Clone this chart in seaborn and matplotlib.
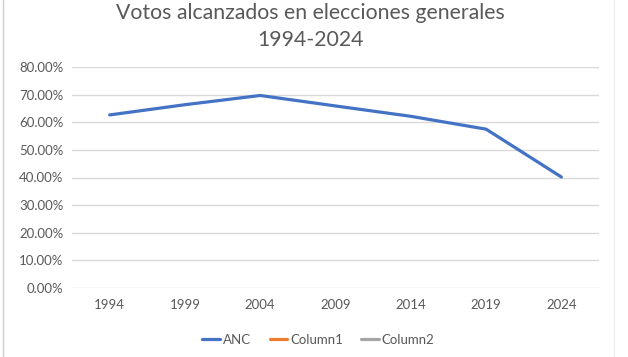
import matplotlib
matplotlib.use("Agg")
import matplotlib.pyplot as plt
from matplotlib.lines import Line2D
from matplotlib.ticker import PercentFormatter
import seaborn as sns
import pandas as pd

years = ["1994", "1999", "2004", "2009", "2014", "2019", "2024"]
anc = [0.6265, 0.6635, 0.6969, 0.6590, 0.6215, 0.5750, 0.4018]
series_names = ["ANC", "Column1", "Column2"]
series_colors = ["#4472C4", "#ED7D31", "#A5A5A5"]
yticks = [0.0, 0.1, 0.2, 0.3, 0.4, 0.5, 0.6, 0.7, 0.8]

sns.set_theme(style="white")
plt.rcParams["font.family"] = ["Lato", "DejaVu Sans"]

df = pd.DataFrame({"Año": years, "Votos": anc})

fig = plt.figure(figsize=(6.28, 3.57), dpi=100)
ax = fig.add_axes([72/628, 1-288/357, (599-72)/628, (288-67)/357])

sns.lineplot(data=df, x="Año", y="Votos", ax=ax, color=series_colors[0],
             linewidth=2.3, sort=False)

ax.set_xlim(-0.5, len(years)-0.5)
ax.set_ylim(0, 0.8)
ax.set_yticks(yticks)
ax.yaxis.set_major_formatter(PercentFormatter(1.0, decimals=2))
ax.grid(axis="y", color="#D9D9D9", linewidth=1)
ax.grid(axis="x", visible=False)
ax.set_axisbelow(True)
for s in ax.spines.values():
    s.set_visible(False)
ax.tick_params(axis="both", length=0, labelsize=9.5, labelcolor="#595959")
ax.tick_params(axis="y", pad=6)
ax.tick_params(axis="x", pad=8)
ax.set_xlabel("")
ax.set_ylabel("")

fig.text(0.494, 1-13/357, "Votos alcanzados en elecciones generales", ha="center",
         va="center", fontsize=15.3, color="#595959")
fig.text(0.494, 1-40/357, "1994-2024", ha="center", va="center",
         fontsize=15.3, color="#595959")

handles = [Line2D([0], [0], color=c, linewidth=2.3) for c in series_colors]
fig.legend(handles, series_names, loc="center", bbox_to_anchor=(318.5/628, 1-340/357),
           ncol=3, frameon=False, fontsize=9.5, labelcolor="#595959",
           handlelength=1.35, handletextpad=0.2, columnspacing=1.4)

# chart frame
fig.add_artist(Line2D([3/628, 3/628], [0, 1], color="#D0D0D0", linewidth=1,
                      transform=fig.transFigure))
fig.add_artist(Line2D([614/628, 614/628], [0, 1], color="#F0F0F0", linewidth=1,
                      transform=fig.transFigure))

fig.savefig("out.png", dpi=100, facecolor="white")
